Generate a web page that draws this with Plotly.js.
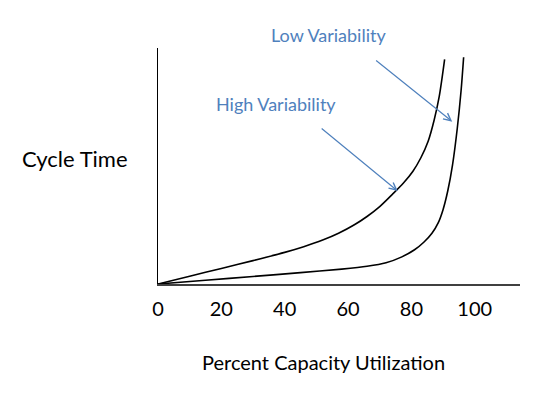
<!DOCTYPE html>
<html>
<head>
<meta charset="utf-8">
<script src="https://cdn.plot.ly/plotly-3.0.1.min.js"></script>
<style>html,body{margin:0;padding:0;background:#fff;}#chart{width:550px;height:397px;}</style>
</head>
<body>
<div id="chart"></div>
<script>
// Percent capacity utilization vs cycle time (arbitrary units)
const highX = [0, 10, 20, 30, 40, 46, 52, 57, 62, 66, 70, 74, 77.5, 80.5, 83, 85.3, 87.2, 88.8, 90.5];
const highY = [0, 3.3, 6.6, 9.9, 13.4, 15.8, 18.6, 21.5, 25.1, 28.6, 32.8, 38.0, 42.8, 47.8, 53.5, 60.5, 69.5, 79.5, 95.2];
const lowX = [0, 15, 30, 45, 58, 66, 72, 77, 81, 84, 86.5, 88.5, 90, 91.5, 93, 94.5, 95.7, 96.5];
const lowY = [0, 1.6, 3.2, 4.8, 6.3, 7.5, 9.0, 11.5, 14.5, 17.8, 21.5, 26.0, 31.5, 39.5, 50.5, 66, 82, 96.1];
const tickVals = [0, 20, 40, 60, 80, 100];
const tickText = ["0", "20", "40", "60", "80", "100"];

const FONT = "Lato, 'Open Sans', sans-serif";
const BLUE = "#4F81BD";

const traces = [
  {x: highX, y: highY, mode: "lines", line: {color: "#000", width: 1.6, shape: "spline", smoothing: 0.8}, hoverinfo: "skip", name: "High Variability"},
  {x: lowX, y: lowY, mode: "lines", line: {color: "#000", width: 1.6, shape: "spline", smoothing: 0.8}, hoverinfo: "skip", name: "Low Variability"}
];

const layout = {
  width: 550, height: 397,
  margin: {l: 158, r: 30, t: 48, b: 113, pad: 0},
  paper_bgcolor: "#fff", plot_bgcolor: "#fff",
  showlegend: false,
  font: {family: FONT, color: "#000"},
  xaxis: {
    range: [0, 114.3], showgrid: false, zeroline: false,
    showline: true, linecolor: "#404040", linewidth: 2,
    ticks: "", tickvals: tickVals, ticktext: tickText,
    tickfont: {family: FONT, size: 20, color: "#000"},
    ticklabelstandoff: 6,
    fixedrange: true
  },
  yaxis: {
    range: [0, 100], showgrid: false, zeroline: false,
    showline: true, linecolor: "#000", linewidth: 1.5,
    ticks: "", showticklabels: false, fixedrange: true
  },
  annotations: [
    {xref: "paper", yref: "paper", x: -0.229, y: 0.53, xanchor: "center", yanchor: "middle",
     text: "Cycle Time", showarrow: false, font: {family: FONT, size: 22, color: "#000"}},
    {xref: "paper", yref: "paper", x: 0.456, y: -0.33, xanchor: "center", yanchor: "middle",
     text: "Percent Capacity Utilization", showarrow: false, font: {family: FONT, size: 20, color: "#000"}},
    {xref: "paper", yref: "paper", x: 0.472, y: 1.056, xanchor: "center", yanchor: "middle",
     text: "Low Variability", showarrow: false, font: {family: FONT, size: 18, color: BLUE}},
    {xref: "paper", yref: "paper", x: 0.326, y: 0.764, xanchor: "center", yanchor: "middle",
     text: "High Variability", showarrow: false, font: {family: FONT, size: 18, color: BLUE}},
    {xref: "x", yref: "y", axref: "x", ayref: "y", x: 92.9, y: 68.8, ax: 68.4, ay: 95.2,
     text: "", showarrow: true, arrowhead: 5, arrowsize: 1.2, arrowwidth: 1.2, arrowcolor: BLUE},
    {xref: "x", yref: "y", axref: "x", ayref: "y", x: 75.7, y: 39.4, ax: 51.2, ay: 66.4,
     text: "", showarrow: true, arrowhead: 5, arrowsize: 1.2, arrowwidth: 1.2, arrowcolor: BLUE}
  ]
};

Plotly.newPlot("chart", traces, layout, {displayModeBar: false, staticPlot: true});
</script>
</body>
</html>
